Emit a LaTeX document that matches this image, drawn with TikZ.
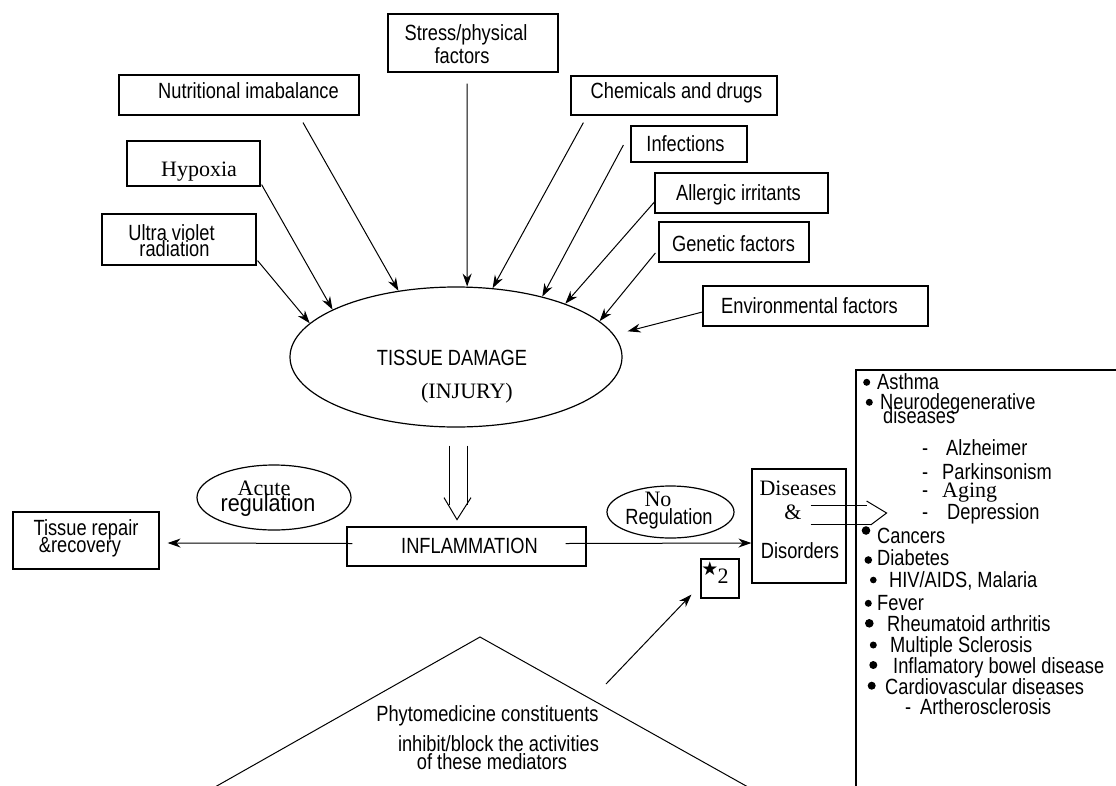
\documentclass[tikz,border=0pt]{standalone}
\usepackage{fontspec}
\setmainfont{Liberation Serif}
\newfontfamily\sfc[FakeStretch=0.83]{Liberation Sans}
\newfontfamily\sfn[FakeStretch=0.9]{Liberation Sans}
\newfontfamily\rmt{Liberation Serif}
\newfontfamily\symf{DejaVu Sans}
\usetikzlibrary{arrows.meta,calc,shapes.geometric}
\begin{document}
\begin{tikzpicture}[x=1pt,y=-1pt,
  box/.style={draw,line width=1.2pt,rectangle,inner sep=0pt},
  oval/.style={draw,line width=1.2pt,ellipse,inner sep=0pt},
  st/.style={inner sep=0pt,anchor=base,font=\sfc\fontsize{22}{22}\selectfont},
  sl/.style={st,anchor=base west},
  rt/.style={inner sep=0pt,anchor=base,font=\rmt\fontsize{22}{22}\selectfont},
  rl/.style={rt,anchor=base west},
  arr/.style={line width=1pt,-{Stealth[length=13pt,width=9pt]}},
  ln/.style={line width=1pt},
  bul/.style={fill=black}
]
\fill[white] (0,0) rectangle (1116,785);
\useasboundingbox (0,0) rectangle (1116,785);

% cause boxes
\node[box,minimum width=170pt,minimum height=58pt] (stress) at (473,43) {};
\node[st] (stressA) at (466,40) {Stress/physical};
\node[st] (stressB) at (462,63) {factors};

\node[box,minimum width=240pt,minimum height=40pt] (nut) at (239,95) {};
\node[st] (nutT) at (248.5,98) {Nutritional imabalance};

\node[box,minimum width=133pt,minimum height=45pt] (hyp) at (193.5,163.5) {};
\node[rt] (hypT) at (199,176) {Hypoxia};

\node[box,minimum width=154pt,minimum height=51pt] (uv) at (179,239.5) {};
\node[st] (uvA) at (171.5,240) {Ultra violet};
\node[st] (uvB) at (174.5,256) {radiation};

\node[box,minimum width=206pt,minimum height=39pt] (chem) at (674,95.5) {};
\node[st] (chemT) at (676.5,98) {Chemicals and drugs};

\node[box,minimum width=116pt,minimum height=36pt] (inf) at (689,144) {};
\node[st] (infT) at (685.5,151) {Infections};

\node[box,minimum width=173pt,minimum height=40pt] (all) at (741.5,193) {};
\node[st] (allT) at (738.5,200) {Allergic irritants};

\node[box,minimum width=150pt,minimum height=40pt] (gen) at (734,242) {};
\node[st] (genT) at (733.5,251) {Genetic factors};

\node[box,minimum width=225pt,minimum height=40pt] (env) at (815.5,306) {};
\node[st] (envT) at (809.5,313) {Environmental factors};

% tissue damage
\node[oval,minimum width=332pt,minimum height=140pt] (tissue) at (456,357) {};
\node[st] (tissueA) at (452,365) {TISSUE DAMAGE};
\node[rt] (tissueB) at (467,398) {(INJURY)};

% arrows into tissue damage
\draw[arr] ($(uv.south east)+(1,-5)$) -- (tissue.167.2);
\draw[arr] ($(hyp.south east)+(1,-2)$) -- (tissue.159.1);
\draw[arr] ($(nut.south)+(64,7)$) -- (tissue.131.5);
\draw[arr] ($(stress.south)+(-6,11)$) -- (tissue.81);
\draw[arr] ($(chem.south west)+(13,7)$) -- (tissue.62.2);
\draw[arr] ($(inf.west)+(-7,1)$) -- (tissue.35.7);
\draw[arr] ($(all.west)+(0,9)$) -- (tissue.26.6);
\draw[arr] ($(gen.west)+(-3,11)$) -- (tissue.14.7);
\draw[arr,shorten >=14pt] ($(env.west)+(0,6)$) -- (tissue.8.3);

% inflammation
\node[box,minimum width=239pt,minimum height=39pt] (infl) at (466.5,546.5) {};
\node[st] (inflT) at (469.5,553) {INFLAMMATION};

% hollow arrow down
\draw[ln] ($(tissue.south)+(-7,18)$) -- ($(tissue.south)+(-7,77)$);
\draw[ln] ($(tissue.south)+(11,18)$) -- ($(tissue.south)+(11,77)$);
\draw[ln] ($(tissue.south)+(-12,70)$) -- ($(tissue.south)+(1,92)$) -- ($(tissue.south)+(15,70)$);

% tissue repair
\node[box,minimum width=146pt,minimum height=57pt] (repair) at (86,540.5) {};
\node[st] (repairA) at (86,535) {Tissue repair};
\node[st] (repairB) at (80,552) {\&recovery};

\node[oval,minimum width=154pt,minimum height=65pt] (acute) at (274,497.5) {};
\node[rt] (acuteA) at (264,495) {Acute};
\node[inner sep=0pt,anchor=base,font=\sfn\fontsize{24}{24}\selectfont] (acuteB) at (268,511) {regulation};

\draw[arr] ($(infl.west)+(6,-3)$) -- ($(repair.east)+(8,2.5)$);

% diseases
\node[box,minimum width=94pt,minimum height=114pt] (dis) at (799,526) {};
\node[rt] (disA) at (798,495) {Diseases};
\node[rt] (disB) at (793,519) {\&};
\node[st] (disC) at (800,558) {Disorders};

\node[oval,minimum width=127pt,minimum height=52pt] (noreg) at (670.5,512) {};
\node[rt] (noregA) at (658,506) {No};
\node[st] (noregB) at (669,524) {Regulation};

\draw[arr] ($(infl.east)+(-21,-3)$) -- ($(dis.west)+(0,17)$);

% star box
\node[box,minimum width=38pt,minimum height=39pt] (star) at (720,578.5) {};
\node[inner sep=0pt,font=\symf\fontsize{19}{19}\selectfont] (starS) at (710,568.5) {★};
\node[rt] (starN) at (723,583) {2};

% hollow arrow right
\draw[ln] ($(dis.east)+(-36,-21)$) -- ($(dis.east)+(20,-21)$);
\draw[ln] ($(dis.east)+(-36,-2)$) -- ($(dis.east)+(24,-2)$);
\draw[ln] ($(dis.east)+(20,-25)$) -- ($(dis.east)+(40,-13)$) -- ($(dis.east)+(24,-1)$);

% list box
\coordinate (lTL) at (856,370);
\draw[line width=1.2pt] (lTL -| 1118,0) -- (lTL) -- (lTL |- 0,790);

\fill[bul] (866.7,382.3) circle (3.5);
\node[sl] (l1) at (877,389) {Asthma};
\fill[bul] (869.3,402.3) circle (3.5);
\node[sl] (l2) at (880,409) {Neurodegenerative};
\node[sl] (l2b) at (883,423) {diseases};
\node[sl] (l3d) at (922,455) {-};
\node[sl] (l3) at (946,455) {Alzheimer};
\node[sl] (l4d) at (922,479) {-};
\node[sl] (l4) at (942,479) {Parkinsonism};
\node[sl] (l5d) at (922,497) {-};
\node[rl] (l5) at (942,497) {Aging};
\node[sl] (l6d) at (922,519) {-};
\node[sl] (l6) at (947,519) {Depression};
\fill[bul] (866,530.5) circle (4.3);
\node[sl] (l7) at (877,543) {Cancers};
\fill[bul] (868.3,560) circle (3.8);
\node[sl] (l8) at (877,565) {Diabetes};
\fill[bul] (873.3,580) circle (3.3);
\node[sl] (l9) at (889,587) {HIV/AIDS, Malaria};
\fill[bul] (868.3,603.3) circle (3.5);
\node[sl] (l10) at (877,610) {Fever};
\fill[bul] (869.3,623.3) circle (4.3);
\node[sl] (l11) at (887,631) {Rheumatoid arthritis};
\fill[bul] (873.3,645) circle (3.5);
\node[sl] (l12) at (890,652) {Multiple Sclerosis};
\fill[bul] (873.3,665) circle (4);
\node[sl] (l13) at (893,673) {Inflamatory bowel disease};
\fill[bul] (871.7,685.7) circle (4);
\node[sl] (l14) at (885,694) {Cardiovascular diseases};
\node[sl] (l15d) at (905,714) {-};
\node[sl] (l15) at (920,714) {Artherosclerosis};

% triangle
\coordinate (apex) at (480,637);
\draw[ln] (215,787) -- (apex) -- (748,787);
\node[st] (phA) at (487.5,721) {Phytomedicine constituents};
\node[st] (phB) at (498.5,751) {inhibit/block the activities};
\node[st] (phC) at (492,769) {of these mediators};
\draw[arr] ($(apex)+(126,47)$) -- ($(star.south west)+(-9,-4)$);
\end{tikzpicture}
\end{document}
